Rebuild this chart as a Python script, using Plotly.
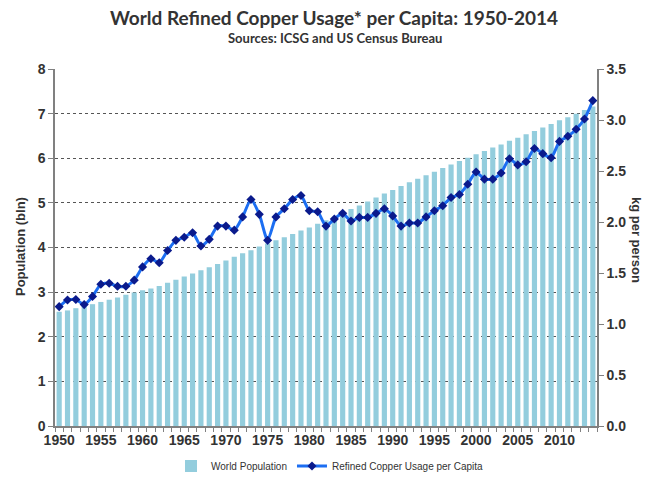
import plotly.graph_objects as go

years = list(range(1950, 2015))
population = [2.56, 2.59, 2.64, 2.68, 2.73, 2.78, 2.83, 2.88, 2.94, 2.99,
              3.04, 3.08, 3.14, 3.21, 3.28, 3.35, 3.42, 3.49, 3.56, 3.63,
              3.71, 3.79, 3.87, 3.94, 4.02, 4.09, 4.16, 4.23, 4.30, 4.38,
              4.45, 4.53, 4.61, 4.69, 4.77, 4.86, 4.94, 5.03, 5.12, 5.21,
              5.29, 5.38, 5.46, 5.54, 5.62, 5.70, 5.78, 5.86, 5.94, 6.01,
              6.09, 6.16, 6.24, 6.31, 6.39, 6.46, 6.54, 6.61, 6.69, 6.77,
              6.85, 6.92, 7.00, 7.08, 7.16]
copper_kg = [1.17, 1.235, 1.24, 1.19, 1.27, 1.39, 1.40, 1.37, 1.37, 1.43,
             1.56, 1.64, 1.60, 1.72, 1.82, 1.85, 1.895, 1.765, 1.83, 1.96,
             1.96, 1.92, 2.05, 2.22, 2.075, 1.82, 2.05, 2.13, 2.22, 2.26,
             2.11, 2.10, 1.96, 2.03, 2.085, 2.01, 2.045, 2.045, 2.085, 2.13,
             2.06, 1.96, 1.99, 1.99, 2.05, 2.11, 2.16, 2.24, 2.27, 2.37,
             2.49, 2.42, 2.42, 2.48, 2.62, 2.56, 2.59, 2.72, 2.67, 2.63,
             2.79, 2.84, 2.91, 3.01, 3.19]
x_labels = list(range(1950, 2015, 5))
pop_ticks = [0, 1, 2, 3, 4, 5, 6, 7, 8]
kg_ticks = [0.0, 0.5, 1.0, 1.5, 2.0, 2.5, 3.0, 3.5]

W, H = 656, 477
L, R, T, B = 55, 59, 69, 51
PW, PH = W - L - R, H - T - B

def px(x):
    return (x - L) / PW

def py(y):
    return (H - B - y) / PH

fig = go.Figure()
fig.add_trace(go.Bar(x=years, y=population, name="World Population",
                     marker=dict(color="#93CDDD", line=dict(width=0)),
                     yaxis="y"))
fig.add_trace(go.Scatter(x=years, y=copper_kg, name="Refined Copper Usage per Capita",
                         mode="lines+markers", yaxis="y2",
                         line=dict(color="#1C6EF2", width=3, shape="spline", smoothing=0.6),
                         marker=dict(symbol="diamond", size=7, color="#0A1A8C")))

axis_font = dict(family="Liberation Sans, Arial, sans-serif", size=14, color="#333333")

fig.update_layout(
    width=W, height=H,
    margin=dict(l=L, r=R, t=T, b=B, autoexpand=False),
    plot_bgcolor="white", paper_bgcolor="white",
    bargap=0.38,
    showlegend=True,
    legend=dict(orientation="h", x=px(330), xanchor="center", y=py(466), yanchor="middle",
                font=dict(family="Liberation Sans, Arial, sans-serif", size=10, color="#333333"),
                traceorder="normal", itemwidth=30),
    xaxis=dict(range=[1949.5, 2014.5], tickmode="array", tickvals=x_labels,
               ticktext=["<b>%d</b>" % v for v in x_labels], ticks="", showgrid=False,
               showline=True, linecolor="#808080", linewidth=1.5,
               tickfont=axis_font,
               minor=dict(tickmode="linear", tick0=1949.5, dtick=1, ticks="outside",
                          ticklen=4, tickcolor="#808080", showgrid=False)),
    yaxis=dict(range=[0, 8], tickmode="array", tickvals=pop_ticks,
               ticktext=["<b>%d</b>" % v for v in pop_ticks],
               showgrid=True, gridcolor="#555555",
               griddash="dot", gridwidth=1, showline=True, linecolor="#808080",
               linewidth=1.5, ticks="outside", ticklen=5, tickcolor="#808080",
               tickfont=axis_font, zeroline=False),
    yaxis2=dict(range=[0, 3.5], tickmode="array", tickvals=kg_ticks,
                ticktext=["<b>%.1f</b>" % v for v in kg_ticks], overlaying="y",
                side="right", showgrid=False, showline=True, linecolor="#808080",
                linewidth=1.5, ticks="outside", ticklen=5, tickcolor="#808080",
                tickfont=axis_font, zeroline=False),
    annotations=[
        dict(text="<b>World Refined Copper Usage* per Capita: 1950-2014</b>", x=px(334), y=py(17),
             xref="paper", yref="paper", showarrow=False, xanchor="center", yanchor="middle",
             font=dict(family="Lato, Open Sans", size=19, color="#333333")),
        dict(text="<b>Sources: ICSG and US Census Bureau</b>", x=px(335), y=py(38),
             xref="paper", yref="paper", showarrow=False, xanchor="center", yanchor="middle",
             font=dict(family="Lato, Open Sans", size=13, color="#333333")),
        dict(text="<b>Population (bln)</b>", x=px(20), y=py(247), textangle=-90, showarrow=False,
             xref="paper", yref="paper", xanchor="center", yanchor="middle",
             font=dict(family="Liberation Sans, Arial, sans-serif", size=13, color="#333333")),
        dict(text="<b>kg per person</b>", x=px(637), y=py(240), textangle=90, showarrow=False,
             xref="paper", yref="paper", xanchor="center", yanchor="middle",
             font=dict(family="Liberation Sans, Arial, sans-serif", size=13, color="#333333")),
    ],
)

fig.write_html("out.html")
